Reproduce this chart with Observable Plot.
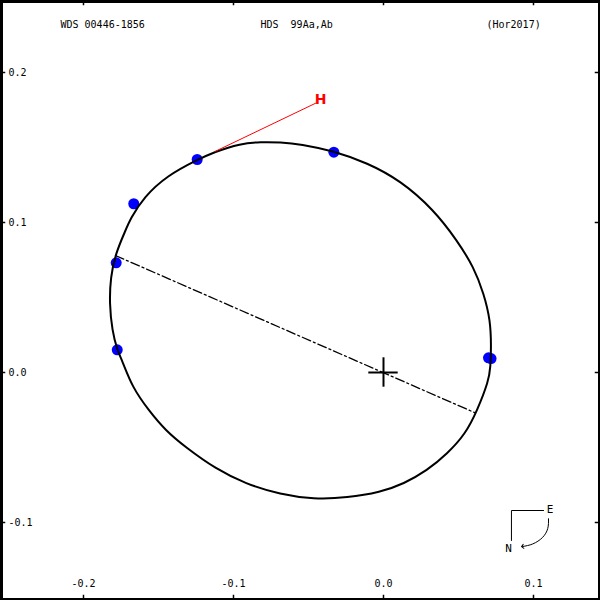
<!DOCTYPE html>
<html>
<head>
<meta charset="utf-8">
<script src="https://cdn.jsdelivr.net/npm/d3@7"></script>
<script src="https://cdn.jsdelivr.net/npm/@observablehq/plot@0.6"></script>
<style>
  html, body { margin: 0; padding: 0; background: #fff; }
  svg { display: block; }
</style>
</head>
<body>
<div id="chart"></div>
<script>
// ---- data (arcsec) ----
const titleLeft = "WDS 00446-1856";
const titleMid = "HDS  99Aa,Ab";
const titleRight = "(Hor2017)";

const xTicks = [-0.2, -0.1, 0.0, 0.1];
const xTickLabels = ["-0.2", "-0.1", "0.0", "0.1"];
const yTicks = [-0.1, 0.0, 0.1, 0.2];
const yTickLabels = ["-0.1", "0.0", "0.1", "0.2"];

// orbit ellipse
const orbitX = [-0.0820, -0.0687, -0.0553, -0.0333, -0.0109, 0.0113, 0.0335, 0.0491, 0.0602, 0.0669,
  0.0713, 0.0718, 0.0713, 0.0702, 0.0625, 0.0547, 0.0425, 0.0291, 0.0135, -0.0020,
  -0.0242, -0.0465, -0.0687, -0.0920, -0.1120, -0.1320, -0.1453, -0.1565, -0.1675, -0.1742,
  -0.1775, -0.1809, -0.1827, -0.1820, -0.1787, -0.1720, -0.1687, -0.1598, -0.1442, -0.1242,
  -0.1131, -0.0953];
const orbitY = [0.1537, 0.1535, 0.1523, 0.1477, 0.1398, 0.1280, 0.1085, 0.0880, 0.0702, 0.0525,
  0.0347, 0.0169, 0.0035, -0.0053, -0.0253, -0.0409, -0.0542, -0.0653, -0.0742, -0.0798,
  -0.0835, -0.0845, -0.0813, -0.0742, -0.0642, -0.0498, -0.0387, -0.0253, -0.0098, 0.0080,
  0.0147, 0.0280, 0.0458, 0.0635, 0.0791, 0.0947, 0.1025, 0.1169, 0.1313, 0.1418,
  0.1469, 0.1527];

// observations
const obsX = [-0.1242, -0.1665, -0.1782, -0.1775, -0.0331, 0.0700, 0.0717];
const obsY = [0.1420, 0.1125, 0.0731, 0.0151, 0.1469, 0.0098, 0.0093];

// line of nodes
const nodesX = [-0.1787, 0.0607];
const nodesY = [0.0780, -0.0267];

// residual to the "H" measure
const hLineX = [-0.1120, -0.0453];
const hLineY = [0.1475, 0.1795];
const hLabel = { x: -0.0420, y: 0.1820, text: "H" };

// compass
const compassX = [0.1067, 0.0853, 0.0853];
const compassY = [-0.0920, -0.0920, -0.1120];
const arcX = [0.1100, 0.1095, 0.1060, 0.0995, 0.0927];
const arcY = [-0.0975, -0.1040, -0.1100, -0.1143, -0.1160];
const compassLabels = [
  { x: 0.1110, y: -0.0913, text: "E" },
  { x: 0.0833, y: -0.1173, text: "N" }
];

// ---- build ----
const xDomain = [-0.25533, 0.14467];
const yDomain = [-0.152, 0.248];
const tickLen = 0.0035;

const orbit = orbitX.map((x, i) => ({ x, y: orbitY[i] }));
const obs = obsX.map((x, i) => ({ x, y: obsY[i] }));
const nodes = nodesX.map((x, i) => ({ x, y: nodesY[i] }));
const hLine = hLineX.map((x, i) => ({ x, y: hLineY[i] }));
const compass = compassX.map((x, i) => ({ x, y: compassY[i] }));
const arc = arcX.map((x, i) => ({ x, y: arcY[i] }));
const xLab = xTicks.map((v, i) => ({ v, t: xTickLabels[i] }));
const yLab = yTicks.map((v, i) => ({ v, t: yTickLabels[i] }));

const font = "DejaVu Sans Mono, monospace";

const chart = Plot.plot({
  width: 600,
  height: 600,
  margin: 0,
  x: { domain: xDomain, axis: null },
  y: { domain: yDomain, axis: null },
  style: { background: "#fff", fontFamily: font },
  marks: [
    // ticks on all four sides
    Plot.ruleX(xTicks, { y1: yDomain[1], y2: yDomain[1] - tickLen, stroke: "#000", strokeWidth: 1.5 }),
    Plot.ruleX(xTicks, { y1: yDomain[0], y2: yDomain[0] + tickLen, stroke: "#000", strokeWidth: 1.5 }),
    Plot.ruleY(yTicks, { x1: xDomain[0], x2: xDomain[0] + tickLen, stroke: "#000", strokeWidth: 1.5 }),
    Plot.ruleY(yTicks, { x1: xDomain[1], x2: xDomain[1] - tickLen, stroke: "#000", strokeWidth: 1.5 }),
    // tick labels
    Plot.text(xLab, { x: "v", y: yDomain[0], text: "t", dy: -17, fontSize: 10, fill: "#000" }),
    Plot.text(yLab, { x: xDomain[0], y: "v", text: "t", dx: 8, textAnchor: "start", fontSize: 10, fill: "#000" }),
    // titles
    Plot.text([titleLeft], { frameAnchor: "top-left", dx: 60, dy: 20, textAnchor: "start", fontSize: 10, fill: "#000" }),
    Plot.text([titleMid], { frameAnchor: "top-left", dx: 260, dy: 20, textAnchor: "start", fontSize: 10, fill: "#000" }),
    Plot.text([titleRight], { frameAnchor: "top-left", dx: 486, dy: 20, textAnchor: "start", fontSize: 10, fill: "#000" }),
    // line of nodes
    Plot.line(nodes, { x: "x", y: "y", stroke: "#000", strokeWidth: 1.3, strokeDasharray: "9,3,2,3" }),
    // center cross
    Plot.ruleY([0], { x1: -0.0098, x2: 0.0098, stroke: "#000", strokeWidth: 2 }),
    Plot.ruleX([0], { y1: -0.0098, y2: 0.0098, stroke: "#000", strokeWidth: 2 }),
    // observations
    Plot.dot(obs, { x: "x", y: "y", r: 5.5, fill: "#0000ff", stroke: "none" }),
    // orbit
    Plot.line(orbit, { x: "x", y: "y", curve: "basis-closed", stroke: "#000", strokeWidth: 2 }),
    // H residual
    Plot.line(hLine, { x: "x", y: "y", stroke: "#ff0000", strokeWidth: 1 }),
    Plot.text([hLabel], { x: "x", y: "y", text: "text", fill: "#ff0000", fontSize: 14, fontWeight: "bold", fontFamily: "DejaVu Sans, sans-serif" }),
    // compass
    Plot.line(compass, { x: "x", y: "y", stroke: "#000", strokeWidth: 1 }),
    Plot.line(arc, { x: "x", y: "y", curve: "natural", stroke: "#000", strokeWidth: 1, markerEnd: "arrow" }),
    Plot.text(compassLabels, { x: "x", y: "y", text: "text", fontSize: 11, fill: "#000" }),
    // border
    Plot.frame({ stroke: "#000", strokeWidth: 5 })
  ]
});
document.getElementById("chart").appendChild(chart);
</script>
</body>
</html>
